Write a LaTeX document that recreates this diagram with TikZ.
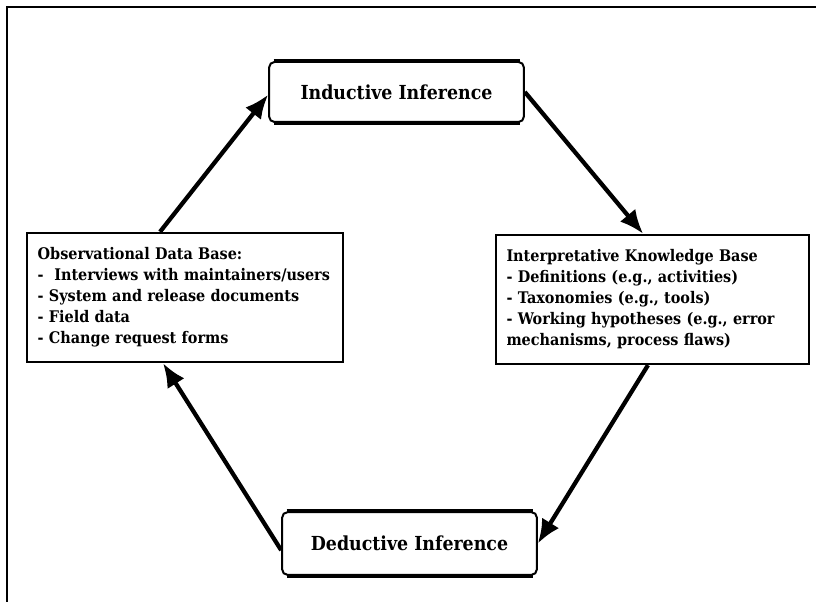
\documentclass[tikz,border=0pt]{standalone}
\usepackage{fontspec}
\setmainfont{DejaVu Serif Condensed}
\usetikzlibrary{positioning,arrows.meta}

\begin{document}
\begin{tikzpicture}[x=0.75pt,y=-0.75pt,
	infer/.style={draw,rounded corners=4pt,line width=1.5pt,minimum width=191pt,minimum height=45pt,font=\bfseries\fontsize{14.5}{17}\selectfont},
	kbase/.style={draw,line width=1.5pt,align=left,inner xsep=8pt,inner ysep=0pt,minimum height=97pt,font=\bfseries\fontsize{12}{15.75}\selectfont},
	cycle/.style={line width=3.2pt,-{Latex[length=18pt,width=15pt]}}]
			\useasboundingbox (0,0) rectangle (816,602);

			%frame
			\draw[line width=1.8pt] (816,7) -- (7,7) -- (7,602);

			%inference nodes
			\node [infer] (ind) at (396.5,92) {Inductive Inference};
			\node [infer,minimum height=47pt] (ded) at (409.5,543.5) {Deductive Inference};
			\foreach \n in {ind,ded} {
				\draw[line width=3pt] ([xshift=4pt]\n.north west) -- ([xshift=-4pt]\n.north east);
				\draw[line width=3pt] ([xshift=4pt]\n.south west) -- ([xshift=-4pt]\n.south east);
			}

			%knowledge bases
			\node [kbase,text width=221pt] (obs) at (185,297.5) {Observational Data Base:\\
				- \ Interviews with maintainers/users\\
				- System and release documents\\
				- Field data\\
				- Change request forms};
			\node [kbase,text width=219pt] (ikb) at (652.5,299.5) {Interpretative Knowledge Base\\
				- Definitions (e.g., activities)\\
				- Taxonomies (e.g., tools)\\
				- Working hypotheses (e.g., error\\
				mechanisms, process flaws)};

			%cycle
			\draw[cycle] ([xshift=-18.75pt]obs.north) -- ([yshift=-2pt]ind.west);
			\draw[cycle] (ind.east) -- ([xshift=-7pt]ikb.north);
			\draw[cycle] ([xshift=-3.4pt]ikb.south) -- (ded.east);
			\draw[cycle] ([yshift=-5pt]ded.west) -- ([xshift=-16.5pt]obs.south);
		\end{tikzpicture}
\end{document}
